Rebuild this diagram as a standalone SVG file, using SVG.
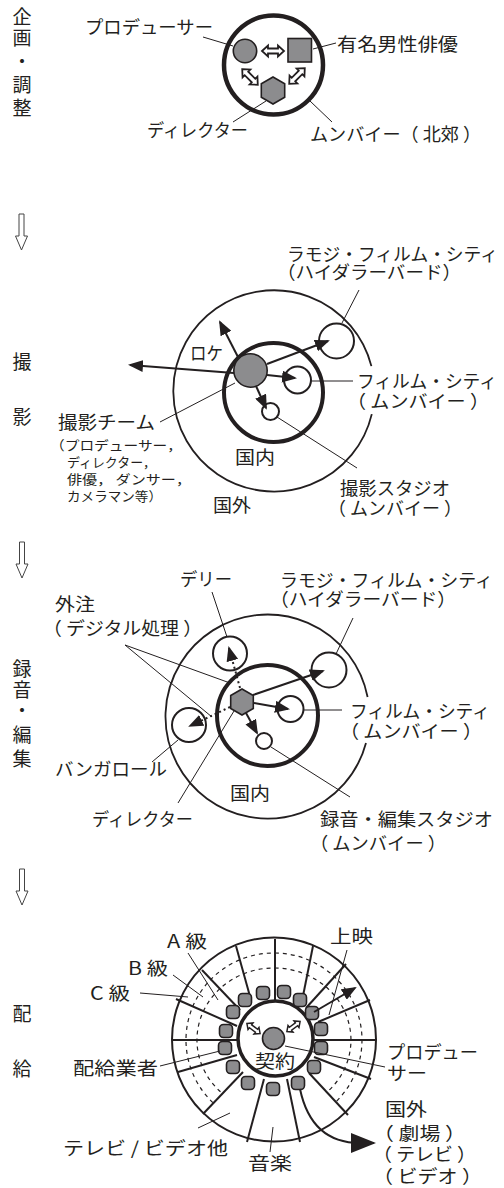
<svg xmlns="http://www.w3.org/2000/svg" width="504" height="1188" viewBox="0 0 504 1188">
<defs>
<style>
text{font-family:"Noto Sans CJK JP","Noto Sans CJK SC",sans-serif;fill:#231f20}
.l{font-size:18px}
.s{font-size:13px}
.v{font-size:19px;text-anchor:middle}
.thin{fill:none;stroke:#231f20;stroke-width:1}
.ln{fill:none;stroke:#231f20;stroke-width:2}
.ring{fill:none;stroke:#231f20;stroke-width:4.5}
.ring2{fill:none;stroke:#231f20;stroke-width:1.8}
.wc{fill:#fff;stroke:#231f20;stroke-width:2}
.g{fill:#8c8c8e;stroke:#231f20;stroke-width:1.6}
.da{fill:#fff;stroke:#231f20;stroke-width:1.8}
.dn{fill:#fff;stroke:#444;stroke-width:1}
.arr{fill:none;stroke:#231f20;stroke-width:2;marker-end:url(#ah)}
.dot{fill:none;stroke:#231f20;stroke-width:2;stroke-dasharray:2 3;marker-end:url(#ah)}
.dash{fill:none;stroke:#231f20;stroke-width:1.2;stroke-dasharray:4 4}
</style>
<marker id="ah" viewBox="0 0 15 12" refX="13" refY="6" markerWidth="15" markerHeight="12" markerUnits="userSpaceOnUse" orient="auto"><path d="M0,0L15,6L0,12z" fill="#231f20"/></marker>
<marker id="ahB" viewBox="0 0 25 20" refX="23" refY="10" markerWidth="25" markerHeight="20" markerUnits="userSpaceOnUse" orient="auto"><path d="M0,0L25,10L0,20z" fill="#231f20"/></marker>
<polygon id="dbl" points="-11,0 -5,-5.5 -5,-2.5 5,-2.5 5,-5.5 11,0 5,5.5 5,2.5 -5,2.5 -5,5.5"/>
<polygon id="down" points="-2.5,0 2.5,0 2.5,22 6,22 0,36 -6,22 -2.5,22"/>
</defs>

<g id="stage-labels">
<text class="v" x="22" y="24">企</text>
<text class="v" x="22" y="45">画</text>
<text class="v" x="22" y="69">・</text>
<text class="v" x="22" y="92">調</text>
<text class="v" x="22" y="115">整</text>
<text class="v" x="22" y="369">撮</text>
<text class="v" x="22" y="424">影</text>
<text class="v" x="22" y="676">録</text>
<text class="v" x="22" y="697">音</text>
<text class="v" x="22" y="718">・</text>
<text class="v" x="22" y="742">編</text>
<text class="v" x="22" y="766">集</text>
<text class="v" x="22" y="1021">配</text>
<text class="v" x="22" y="1076">給</text>
</g>

<g id="flow-arrows">
<use href="#down" class="dn" transform="translate(21.5,214)"/>
<use href="#down" class="dn" transform="translate(22,542)"/>
<use href="#down" class="dn" transform="translate(22,869)"/>
</g>

<!-- Stage 1 -->
<g id="s1-mumbai"><circle class="ring" cx="273.5" cy="65" r="49.5"/></g>
<g id="s1-connectors">
<line class="thin" x1="203" y1="37" x2="233" y2="46"/>
<line class="thin" x1="313" y1="49" x2="336" y2="43"/>
<line class="thin" x1="233" y1="122" x2="266" y2="101"/>
<line class="thin" x1="310" y1="101" x2="332" y2="122"/>
<use href="#dbl" class="da" transform="translate(273,51)"/>
<use href="#dbl" class="da" transform="translate(250,77) rotate(45)"/>
<use href="#dbl" class="da" transform="translate(297,76) rotate(-45)"/>
</g>
<g id="s1-producer"><circle class="g" cx="245" cy="51" r="11.7"/></g>
<g id="s1-actor"><rect class="g" x="288" y="38.5" width="23.5" height="23.5"/></g>
<g id="s1-director"><polygon class="g" points="273,77 284.7,83.75 284.7,97.25 273,104 261.3,97.25 261.3,83.75"/></g>
<g id="s1-labels">
<text class="l" x="85" y="34" textLength="128" lengthAdjust="spacingAndGlyphs">プロデューサー</text>
<text class="l" x="337" y="51" textLength="121" lengthAdjust="spacingAndGlyphs">有名男性俳優</text>
<text class="l" x="147" y="137" textLength="101" lengthAdjust="spacingAndGlyphs">ディレクター</text>
<text class="l" x="310" y="141" textLength="171" lengthAdjust="spacingAndGlyphs">ムンバイー（ 北郊 ）</text>
</g>

<!-- Stage 2 -->
<g id="s2-abroad"><path class="ring2" d="M371.8,414.1 A100.6,100.6 0 1,1 371.4,366.1"/></g>
<g id="s2-domestic"><circle fill="none" stroke="#231f20" stroke-width="4" cx="273.5" cy="392.5" r="49.5"/></g>
<g id="s2-ramoji"><circle class="wc" cx="336.5" cy="341" r="17.5"/></g>
<g id="s2-filmcity"><circle class="wc" cx="297.5" cy="380" r="13.5"/></g>
<g id="s2-studio"><circle class="wc" cx="270.5" cy="411.5" r="8.5"/></g>
<g id="s2-team"><circle class="g" cx="250.5" cy="370.5" r="16.7"/></g>
<g id="s2-connectors">
<line class="arr" x1="238" y1="357" x2="220" y2="322"/>
<line class="arr" x1="234" y1="373" x2="130" y2="365"/>
<line class="arr" x1="267" y1="364" x2="328" y2="341"/>
<line class="arr" x1="267" y1="375" x2="295" y2="378"/>
<line class="arr" x1="256" y1="386" x2="266" y2="408"/>
<line class="thin" x1="359" y1="290" x2="342" y2="323"/>
<line class="thin" x1="160" y1="422" x2="235" y2="383"/>
<line class="thin" x1="311" y1="381" x2="353" y2="381"/>
<line class="thin" x1="277" y1="417" x2="357" y2="468"/>
</g>
<g id="s2-labels">
<text class="l" x="287" y="261" textLength="211" lengthAdjust="spacingAndGlyphs">ラモジ・フィルム・シティ</text>
<text class="l" x="277" y="279" textLength="184" lengthAdjust="spacingAndGlyphs">（ハイダラーバード）</text>
<text class="l" x="190" y="360" textLength="33" lengthAdjust="spacingAndGlyphs">ロケ</text>
<text class="l" x="58" y="429" textLength="97" lengthAdjust="spacingAndGlyphs">撮影チーム</text>
<text class="s" x="50" y="450" textLength="132" lengthAdjust="spacingAndGlyphs">（プロデューサー，</text>
<text class="s" x="67" y="467" textLength="89" lengthAdjust="spacingAndGlyphs">ディレクター，</text>
<text class="s" x="67" y="484" textLength="124" lengthAdjust="spacingAndGlyphs">俳優，  ダンサー，</text>
<text class="s" x="67" y="501" textLength="95" lengthAdjust="spacingAndGlyphs">カメラマン等）</text>
<text class="l" x="235" y="464" textLength="40" lengthAdjust="spacingAndGlyphs">国内</text>
<text class="l" x="213" y="512" textLength="38" lengthAdjust="spacingAndGlyphs">国外</text>
<text class="l" x="357" y="388" textLength="140" lengthAdjust="spacingAndGlyphs">フィルム・シティ</text>
<text class="l" x="347" y="408" textLength="142" lengthAdjust="spacingAndGlyphs">（ ムンバイー ）</text>
<text class="l" x="340" y="495" textLength="110" lengthAdjust="spacingAndGlyphs">撮影スタジオ</text>
<text class="l" x="328" y="515" textLength="134" lengthAdjust="spacingAndGlyphs">（ ムンバイー ）</text>
</g>

<!-- Stage 3 -->
<g id="s3-abroad"><path class="ring2" d="M366,743 A102,102 0 1,1 367.6,697"/></g>
<g id="s3-domestic"><circle fill="none" stroke="#231f20" stroke-width="4" cx="267.5" cy="715.5" r="50.5"/></g>
<g id="s3-delhi"><circle class="wc" cx="230" cy="653.5" r="17"/></g>
<g id="s3-bangalore"><circle class="wc" cx="189" cy="725" r="17"/></g>
<g id="s3-ramoji"><circle class="wc" cx="329" cy="670" r="17.5"/></g>
<g id="s3-filmcity"><circle class="wc" cx="290.5" cy="709" r="13"/></g>
<g id="s3-studio"><circle class="wc" cx="264" cy="741" r="8"/></g>
<g id="s3-connectors">
<path class="dot" d="M240,688 L229,648"/>
<path class="dot" d="M230,707 L190,726"/>
<line class="arr" x1="253" y1="695" x2="323" y2="671"/>
<line class="arr" x1="254" y1="703" x2="288" y2="709"/>
<line class="arr" x1="246" y1="713" x2="257" y2="733"/>
<line class="thin" x1="212" y1="592" x2="227" y2="637"/>
<line class="thin" x1="353" y1="618" x2="336" y2="654"/>
<line class="thin" x1="125" y1="645" x2="230" y2="683"/>
<line class="thin" x1="125" y1="645" x2="212" y2="717"/>
<line class="thin" x1="152" y1="762" x2="178" y2="740"/>
<line class="thin" x1="178" y1="803" x2="234" y2="711"/>
<line class="thin" x1="304" y1="710" x2="342" y2="710"/>
<line class="thin" x1="271" y1="747" x2="350" y2="797"/>
</g>
<g id="s3-director"><polygon class="g" points="242,689 253.3,695.5 253.3,708.5 242,715 230.7,708.5 230.7,695.5"/></g>
<g id="s3-labels">
<text class="l" x="180" y="586" textLength="52" lengthAdjust="spacingAndGlyphs">デリー</text>
<text class="l" x="280" y="587" textLength="213" lengthAdjust="spacingAndGlyphs">ラモジ・フィルム・シティ</text>
<text class="l" x="270" y="606" textLength="186" lengthAdjust="spacingAndGlyphs">（ハイダラーバード）</text>
<text class="l" x="55" y="611" textLength="40" lengthAdjust="spacingAndGlyphs">外注</text>
<text class="l" x="43" y="635" textLength="159" lengthAdjust="spacingAndGlyphs">（ デジタル処理 ）</text>
<text class="l" x="55" y="776" textLength="112" lengthAdjust="spacingAndGlyphs">バンガロール</text>
<text class="l" x="92" y="826" textLength="101" lengthAdjust="spacingAndGlyphs">ディレクター</text>
<text class="l" x="230" y="800" textLength="40" lengthAdjust="spacingAndGlyphs">国内</text>
<text class="l" x="350" y="718" textLength="140" lengthAdjust="spacingAndGlyphs">フィルム・シティ</text>
<text class="l" x="340" y="738" textLength="142" lengthAdjust="spacingAndGlyphs">（ ムンバイー ）</text>
<text class="l" x="320" y="826" textLength="173" lengthAdjust="spacingAndGlyphs">録音・編集スタジオ</text>
<text class="l" x="310" y="850" textLength="136" lengthAdjust="spacingAndGlyphs">（ ムンバイー ）</text>
</g>

<!-- Stage 4 -->
<g id="s4-market">
<circle fill="none" stroke="#231f20" stroke-width="2" cx="274" cy="1039.5" r="102"/>
<path class="dash" d="M212.9,1102.6 A88,87 0 1,1 336.2,1101.5"/>
<path class="dash" d="M220.5,1091.8 A77,72 0 1,1 328.4,1090.9"/>
</g>
<g id="s4-segments">
<line class="ln" x1="275" y1="939" x2="275" y2="1000"/>
<line class="ln" x1="236" y1="946" x2="251" y2="1000"/>
<line class="ln" x1="202" y1="970" x2="240" y2="1010"/>
<line class="ln" x1="176" y1="999" x2="237" y2="1026"/>
<line class="ln" x1="172" y1="1040" x2="237" y2="1040"/>
<line class="ln" x1="178" y1="1072" x2="237" y2="1055"/>
<line class="ln" x1="203" y1="1114" x2="243" y2="1072"/>
<line class="ln" x1="247" y1="1142" x2="264" y2="1079"/>
<line class="ln" x1="300" y1="1142" x2="287" y2="1079"/>
<line class="ln" x1="348" y1="1115" x2="309" y2="1073"/>
<line class="ln" x1="371" y1="1079" x2="314" y2="1057"/>
<line class="ln" x1="314" y1="1040" x2="376" y2="1040"/>
<line class="ln" x1="370" y1="1000" x2="318" y2="1022"/>
<line class="ln" x1="346" y1="964" x2="306" y2="1008"/>
<line class="ln" x1="313" y1="946" x2="302" y2="1001"/>
</g>
<g id="s4-contract"><circle fill="none" stroke="#231f20" stroke-width="3.5" cx="275.5" cy="1038.5" r="37.5"/></g>
<g id="s4-producer"><circle class="g" cx="273.5" cy="1038.5" r="11"/></g>
<g id="s4-distributors">
<rect class="g" x="256.5" y="986.5" width="13" height="13" rx="4"/>
<rect class="g" x="277.5" y="985.5" width="13" height="13" rx="4"/>
<rect class="g" x="293.5" y="993.5" width="13" height="13" rx="4"/>
<rect class="g" x="305.5" y="1006.5" width="13" height="13" rx="4"/>
<rect class="g" x="314.5" y="1022.5" width="13" height="13" rx="4"/>
<rect class="g" x="314.5" y="1041.5" width="13" height="13" rx="4"/>
<rect class="g" x="307.5" y="1060.5" width="13" height="13" rx="4"/>
<rect class="g" x="291.5" y="1076.5" width="13" height="13" rx="4"/>
<rect class="g" x="266.5" y="1082.5" width="13" height="13" rx="4"/>
<rect class="g" x="241.5" y="1076.5" width="13" height="13" rx="4"/>
<rect class="g" x="226.5" y="1060.5" width="13" height="13" rx="4"/>
<rect class="g" x="218.5" y="1041.5" width="13" height="13" rx="4"/>
<rect class="g" x="219.5" y="1024.5" width="13" height="13" rx="4"/>
<rect class="g" x="226.5" y="1005.5" width="13" height="13" rx="4"/>
<rect class="g" x="238.5" y="993.5" width="13" height="13" rx="4"/>
</g>
<g id="s4-connectors">
<use href="#dbl" class="da" transform="translate(253.5,1028.5) rotate(37) scale(0.75)" style="stroke-width:2"/>
<use href="#dbl" class="da" transform="translate(293.5,1026.5) rotate(-37) scale(0.75)" style="stroke-width:2"/>
<path class="arr" d="M314,1012 L355,988"/>
<path fill="none" stroke="#231f20" stroke-width="2" marker-end="url(#ahB)" d="M300,1089 C307,1122 325,1143 360,1143 L374,1143"/>
<line class="thin" x1="188" y1="953" x2="218" y2="1000"/>
<line class="thin" x1="173" y1="975" x2="203" y2="997"/>
<line class="thin" x1="140" y1="993" x2="188" y2="997"/>
<line class="thin" x1="347" y1="950" x2="329" y2="1015"/>
<line class="thin" x1="160" y1="1066" x2="220" y2="1051"/>
<line class="thin" x1="285" y1="1046" x2="385" y2="1067"/>
<line class="thin" x1="198" y1="1128" x2="230" y2="1113"/>
<line class="thin" x1="270" y1="1152" x2="273" y2="1127"/>
</g>
<g id="s4-labels">
<text class="l" x="167" y="948" textLength="40" lengthAdjust="spacingAndGlyphs">A 級</text>
<text class="l" x="128" y="975" textLength="40" lengthAdjust="spacingAndGlyphs">B 級</text>
<text class="l" x="90" y="1000" textLength="40" lengthAdjust="spacingAndGlyphs">C 級</text>
<text class="l" x="330" y="943" textLength="43" lengthAdjust="spacingAndGlyphs">上映</text>
<text class="l" x="73" y="1075" textLength="85" lengthAdjust="spacingAndGlyphs">配給業者</text>
<text class="l" x="387" y="1059" textLength="91" lengthAdjust="spacingAndGlyphs">プロデュー</text>
<text class="l" x="387" y="1080" textLength="40" lengthAdjust="spacingAndGlyphs">サー</text>
<text class="l" x="255" y="1068" textLength="40" lengthAdjust="spacingAndGlyphs">契約</text>
<text class="l" x="385" y="1116" textLength="42" lengthAdjust="spacingAndGlyphs">国外</text>
<text class="l" x="373" y="1140" textLength="93" lengthAdjust="spacingAndGlyphs">（ 劇場 ）</text>
<text class="l" x="373" y="1161" textLength="103" lengthAdjust="spacingAndGlyphs">（ テレビ ）</text>
<text class="l" x="373" y="1183" textLength="109" lengthAdjust="spacingAndGlyphs">（ ビデオ ）</text>
<text class="l" x="63" y="1155" textLength="165" lengthAdjust="spacingAndGlyphs">テレビ / ビデオ他</text>
<text class="l" x="248" y="1170" textLength="44" lengthAdjust="spacingAndGlyphs">音楽</text>
</g>
</svg>
